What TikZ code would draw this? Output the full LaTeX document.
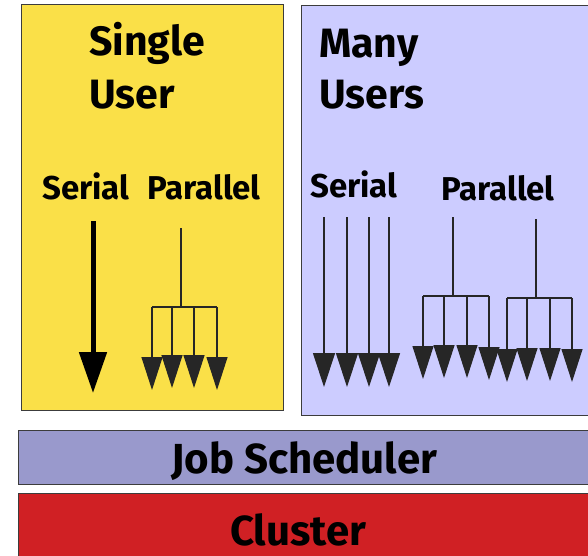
\documentclass[tikz,border=0pt]{standalone}
\usepackage{fontspec}
\setmainfont{Fira Sans}
\usetikzlibrary{arrows.meta}

\definecolor{singlebg}{RGB}{250,224,72}
\definecolor{manybg}{RGB}{204,204,255}
\definecolor{schedbg}{RGB}{153,153,204}
\definecolor{clusterbg}{RGB}{208,32,36}
\definecolor{edge}{RGB}{60,60,60}

\tikzset{
  panel/.style={draw=edge, line width=1pt, anchor=north west, inner sep=0pt},
  title/.style={anchor=base west, inner sep=0pt, font=\fontsize{41}{41}\selectfont\bfseries},
  mode/.style={anchor=base west, inner sep=0pt, font=\fontsize{33}{33}\selectfont\bfseries},
  layer/.style={anchor=base west, inner sep=0pt, font=\fontsize{42}{42}\selectfont\bfseries},
  wire/.style={draw=black!85, line width=1.2pt},
  job/.style={wire, -{Triangle[width=21pt,length=33pt]}},
  bigjob/.style={draw=black, line width=5pt, -{Triangle[width=27pt,length=41pt]}},
}

\begin{document}
\begin{tikzpicture}[x=1pt,y=-1pt]
\useasboundingbox (0,0) rectangle (588,555);
\clip (0,0) rectangle (588,555);

% panels and layers
\node[panel, fill=singlebg, minimum width=262pt, minimum height=406pt] (single) at (21,4) {};
\node[panel, fill=manybg, minimum width=300pt, minimum height=410pt] (many) at (301,5) {};
\node[panel, fill=schedbg, minimum width=590pt, minimum height=54pt] (sched) at (18,430) {};
\node[panel, fill=clusterbg, minimum width=590pt, minimum height=80pt] (cluster) at (18,493) {};

% labels
\node[title] (t1a) at (89,55) {Single};
\node[title] (t1b) at (89,108) {User};
\node[title] (t2a) at (319,57) {Many};
\node[title] (t2b) at (319,108) {Users};
\node[mode] (m1) at (42,199) {Serial};
\node[mode] (m2) at (147,199) {Parallel};
\node[mode] (m3) at (310,197) {Serial};
\node[mode] (m4) at (441,200) {Parallel};
\node[layer] (l1) at (171,473) {Job Scheduler};
\node[layer] (l2) at (230,545) {Cluster};

% single user, serial job
\coordinate (ss) at (93,221);
\coordinate (se) at (93,393);
\draw[bigjob] (ss) -- (se);

% single user, parallel job
\coordinate (ps) at (181,228);
\coordinate (pj) at (181,307);
\coordinate (pl) at (152,307);
\coordinate (pr) at (217,307);
\draw[wire] (ps) -- (pj);
\draw[wire] (pl) -- (pr);
\foreach \x/\t [count=\i] in {152/390,172/388,194/388,217/390}{
  \coordinate (pa\i) at (\x,307);
  \coordinate (pb\i) at (\x,\t);
  \draw[job] (pa\i) -- (pb\i);
}

% many users, serial jobs
\foreach \x [count=\i] in {324,347,369,389}{
  \coordinate (sa\i) at (\x,217);
  \coordinate (sb\i) at (\x,387);
  \draw[wire, -{Triangle[width=22pt,length=34pt]}] (sa\i) -- (sb\i);
}

% many users, first parallel job
\coordinate (qs) at (453,217);
\coordinate (qj) at (453,296);
\coordinate (ql) at (423,296);
\coordinate (qr) at (489,296);
\draw[wire] (qs) -- (qj);
\draw[wire] (ql) -- (qr);
\foreach \x/\t [count=\i] in {423/379,444/378,467/378,489/380}{
  \coordinate (qa\i) at (\x,296);
  \coordinate (qb\i) at (\x,\t);
  \draw[job] (qa\i) -- (qb\i);
}

% many users, second parallel job
\coordinate (rs) at (536,219);
\coordinate (rj) at (536,298);
\coordinate (rl) at (507,298);
\coordinate (rr) at (572,298);
\draw[wire] (rs) -- (rj);
\draw[wire] (rl) -- (rr);
\foreach \x/\t [count=\i] in {507/382,527/381,550/381,572/382}{
  \coordinate (ra\i) at (\x,298);
  \coordinate (rb\i) at (\x,\t);
  \draw[job] (ra\i) -- (rb\i);
}
\end{tikzpicture}
\end{document}
